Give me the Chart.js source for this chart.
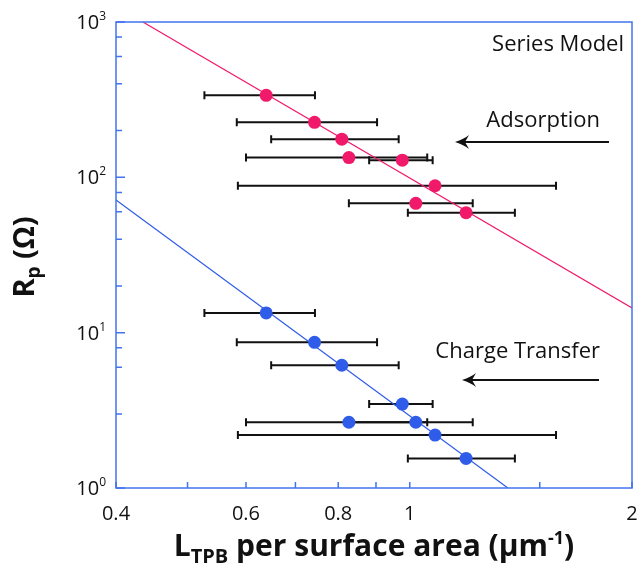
<!DOCTYPE html>
<html>
<head>
<meta charset="utf-8">
<script src="https://cdn.jsdelivr.net/npm/chart.js@4.4.0/dist/chart.umd.min.js"></script>
<style>
  html, body { margin: 0; padding: 0; background: #fff; }
</style>
</head>
<body>
<canvas id="rpChart" width="639" height="565"></canvas>
<script>
// L_TPB per surface area (um^-1) with horizontal error bar limits
const lengthTPB = [0.639, 0.743, 0.809, 0.827, 0.977, 1.082, 1.019, 1.192];
const lengthLow = [0.527, 0.583, 0.649, 0.600, 0.881, 0.585, 0.827, 0.994];
const lengthHigh = [0.744, 0.903, 0.966, 1.056, 1.074, 1.578, 1.217, 1.388];

// Rp (ohm) for the two processes
const rpAdsorption = [337, 226, 176, 134, 129, 88.3, 68.0, 59.2];
const rpChargeTransfer = [13.4, 8.67, 6.17, 2.65, 3.47, 2.19, 2.65, 1.55];

// fitted lines (end points)
const fitAdsX = [0.435, 2];
const fitAdsY = [1000, 14.4];
const fitCtX = [0.4, 1.358];
const fitCtY = [71.5, 1];

const xTickLabels = [0.4, 0.6, 0.8, 1, 2];
const yDecades = [1, 10, 100, 1000];
const yExponents = ["0", "1", "2", "3"];

const pink = "#f0196a";
const blue = "#2f5ce8";
const frameBlue = "#4374ee";
const fam = "'Open Sans', sans-serif";

function drawRich(ctx, parts, x, y) {
  // parts: [text, font, dy]; drawn centred on x, baseline y
  let total = 0;
  parts.forEach((p) => { ctx.font = p[1]; total += ctx.measureText(p[0]).width; });
  let cx = x - total / 2;
  ctx.textAlign = "left";
  ctx.textBaseline = "alphabetic";
  parts.forEach((p) => {
    ctx.font = p[1];
    ctx.fillText(p[0], cx, y + p[2]);
    cx += ctx.measureText(p[0]).width;
  });
}

function arrowLeft(ctx, x0, x1, y) {
  ctx.beginPath();
  ctx.moveTo(x0, y);
  ctx.lineTo(x1 + 6, y);
  ctx.lineWidth = 2.2;
  ctx.stroke();
  ctx.beginPath();
  ctx.moveTo(x1, y);
  ctx.quadraticCurveTo(x1 + 9, y - 3, x1 + 14, y - 7);
  ctx.lineTo(x1 + 10, y);
  ctx.lineTo(x1 + 14, y + 7);
  ctx.quadraticCurveTo(x1 + 9, y + 3, x1, y);
  ctx.fill();
}

const extras = {
  id: "extras",
  beforeDatasetsDraw(chart) {
    const { ctx, scales: { x, y } } = chart;
    ctx.save();
    ctx.strokeStyle = "#111";
    ctx.lineWidth = 2;
    for (let i = 0; i < lengthTPB.length; i++) {
      [rpAdsorption[i], rpChargeTransfer[i]].forEach((rp) => {
        const py = y.getPixelForValue(rp);
        const x0 = x.getPixelForValue(lengthLow[i]);
        const x1 = x.getPixelForValue(lengthHigh[i]);
        ctx.beginPath();
        ctx.moveTo(x0, py); ctx.lineTo(x1, py);
        ctx.moveTo(x0, py - 4); ctx.lineTo(x0, py + 4);
        ctx.moveTo(x1, py - 4); ctx.lineTo(x1, py + 4);
        ctx.stroke();
      });
    }
    ctx.restore();
  },
  afterDraw(chart) {
    const { ctx, chartArea: a, scales: { x, y } } = chart;
    ctx.save();
    // frame
    ctx.strokeStyle = frameBlue;
    ctx.lineWidth = 1.5;
    ctx.strokeRect(a.left, a.top, a.right - a.left, a.bottom - a.top);
    // ticks
    ctx.beginPath();
    x.ticks.forEach((t) => {
      const px = x.getPixelForValue(t.value);
      ctx.moveTo(px, a.bottom); ctx.lineTo(px, a.bottom - 6);
    });
    y.ticks.forEach((t) => {
      const py = y.getPixelForValue(t.value);
      const major = Math.abs(Math.log10(t.value) - Math.round(Math.log10(t.value))) < 1e-6;
      ctx.moveTo(a.left, py); ctx.lineTo(a.left + (major ? 9 : 6), py);
    });
    ctx.stroke();

    // y tick labels with superscripts
    ctx.fillStyle = "#111";
    yDecades.forEach((v, i) => {
      const py = y.getPixelForValue(v);
      ctx.font = "12px " + fam;
      const ew = ctx.measureText(yExponents[i]).width;
      const right = a.left - 10;
      ctx.textAlign = "left";
      ctx.textBaseline = "alphabetic";
      ctx.fillText(yExponents[i], right - ew, py - 2);
      ctx.font = "20px " + fam;
      ctx.textAlign = "right";
      ctx.fillText("10", right - ew, py + 7);
    });

    // axis titles
    const big = "bold 30px " + fam;
    drawRich(ctx, [
      ["L", big, 0], ["TPB", "bold 20px " + fam, 7],
      [" per surface area (\u00b5m", big, 0], ["-1", "bold 18px " + fam, -12], [")", big, 0]
    ], (a.left + a.right) / 2, 556);
    ctx.save();
    ctx.translate(34, (a.top + a.bottom) / 2 + 2);
    ctx.rotate(-Math.PI / 2);
    drawRich(ctx, [["R", "bold 29px " + fam, 0], ["p", "bold 19px " + fam, 6], [" (\u03a9)", "bold 29px " + fam, 0]], 0, 0);
    ctx.restore();

    // annotations
    ctx.font = "22px " + fam;
    ctx.textAlign = "right";
    ctx.textBaseline = "middle";
    ctx.fillText("Series Model", a.right - 8, a.top + 23);
    ctx.fillText("Adsorption", a.right - 32, a.top + 99);
    ctx.fillText("Charge Transfer", a.right - 32, a.top + 330);
    ctx.strokeStyle = "#111";
    arrowLeft(ctx, a.right - 23, a.left + 339, a.top + 120);
    arrowLeft(ctx, a.right - 33, a.left + 346, a.top + 358);
    ctx.restore();
  }
};

new Chart(document.getElementById("rpChart"), {
  type: "scatter",
  data: {
    datasets: [
      {
        label: "Adsorption fit",
        data: fitAdsX.map((v, i) => ({ x: v, y: fitAdsY[i] })),
        showLine: true,
        borderColor: pink,
        borderWidth: 1.2,
        pointRadius: 0,
      },
      {
        label: "Charge transfer fit",
        data: fitCtX.map((v, i) => ({ x: v, y: fitCtY[i] })),
        showLine: true,
        borderColor: blue,
        borderWidth: 1.2,
        pointRadius: 0,
      },
      {
        label: "Adsorption",
        data: lengthTPB.map((v, i) => ({ x: v, y: rpAdsorption[i] })),
        backgroundColor: pink,
        borderWidth: 0,
        pointRadius: 6.5,
      },
      {
        label: "Charge Transfer",
        data: lengthTPB.map((v, i) => ({ x: v, y: rpChargeTransfer[i] })),
        backgroundColor: blue,
        borderWidth: 0,
        pointRadius: 6.5,
      },
    ],
  },
  options: {
    responsive: false,
    animation: false,
    layout: { padding: { top: 22, right: 7 } },
    plugins: { legend: { display: false }, tooltip: { enabled: false } },
    scales: {
      x: {
        type: "logarithmic",
        min: 0.4,
        max: 2,
        grid: { display: false, drawTicks: true, tickLength: 14 },
        border: { display: false },
        ticks: {
          autoSkip: false,
          maxRotation: 0,
          padding: 0,
          color: "#111",
          font: { family: fam, size: 20 },
          callback: (v) => (xTickLabels.some((t) => Math.abs(t - v) < 1e-6) ? String(v) : ""),
        },
        afterFit: (s) => { s.height = 77; s.paddingLeft = 0; s.paddingRight = 0; },
      },
      y: {
        type: "logarithmic",
        min: 1,
        max: 1000,
        grid: { display: false, drawTicks: false },
        border: { display: false },
        ticks: { callback: () => "" },
        afterFit: (s) => { s.width = 116; },
      },
    },
  },
  plugins: [extras],
});
</script>
</body>
</html>
